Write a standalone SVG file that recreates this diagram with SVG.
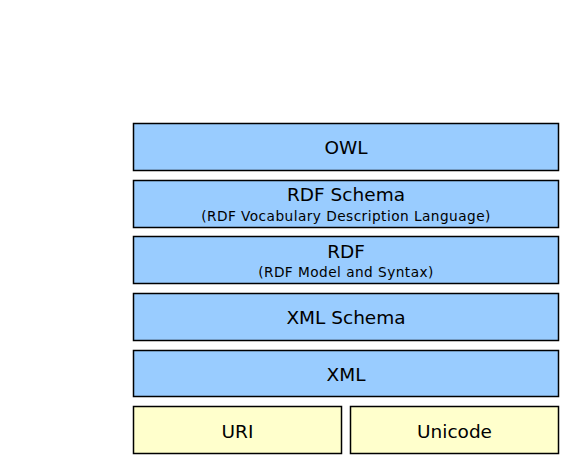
<svg xmlns="http://www.w3.org/2000/svg" width="569" height="465" viewBox="0 0 569 465">
<style>
rect{stroke:#000;stroke-width:1.5}
.b{fill:#99CCFF}
.y{fill:#FFFFCC}
text{font-family:"DejaVu Sans",Verdana,sans-serif;fill:#000;text-anchor:middle}
.m{font-size:18.5px}
.s{font-size:13.7px;letter-spacing:0.45px}
</style>
<rect width="569" height="465" fill="#fff" style="stroke:none"/>
<g id="owl"><rect class="b" x="133.5" y="123.5" width="425" height="47"/><text class="m" x="346" y="154">OWL</text></g>
<g id="rdfs"><rect class="b" x="133.5" y="180.5" width="425" height="47"/><text class="m" x="346" y="201">RDF Schema</text><text class="s" x="346" y="221">(RDF Vocabulary Description Language)</text></g>
<g id="rdf"><rect class="b" x="133.5" y="236.5" width="425" height="47"/><text class="m" x="346" y="258">RDF</text><text class="s" x="346" y="277">(RDF Model and Syntax)</text></g>
<g id="xmls"><rect class="b" x="133.5" y="293.5" width="425" height="47"/><text class="m" x="346" y="324">XML Schema</text></g>
<g id="xml"><rect class="b" x="133.5" y="350.5" width="425" height="46"/><text class="m" x="346" y="381">XML</text></g>
<g id="uri"><rect class="y" x="133.5" y="406.5" width="208" height="47"/><text class="m" x="237.5" y="438">URI</text></g>
<g id="unicode"><rect class="y" x="350.5" y="406.5" width="208" height="47"/><text class="m" x="454.5" y="438">Unicode</text></g>
<g id="connectors"></g>
</svg>
